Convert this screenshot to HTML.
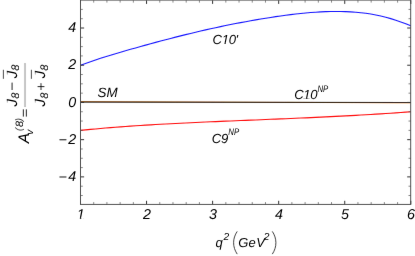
<!DOCTYPE html>
<html><head><meta charset="utf-8"><style>
html,body{margin:0;padding:0;background:#fff;}
svg{display:block}
text{text-rendering:geometricPrecision;font-family:"Liberation Sans",sans-serif;font-style:italic;fill:#000;}
</style></head><body>
<svg width="415" height="256" viewBox="0 0 415 256">
<defs><filter id="soft" x="0" y="0" width="415" height="256" filterUnits="userSpaceOnUse"><feConvolveMatrix order="3" kernelMatrix="0 0.04 0 0.04 0.84 0.04 0 0.04 0" edgeMode="duplicate" preserveAlpha="false"/></filter></defs>
<rect width="415" height="256" fill="#fff"/>
<g filter="url(#soft)">
<g fill="none">
<path d="M80.5,101.6L410.8,102.85" stroke="#d07a28" stroke-width="1.0"/>
<path d="M80.5,102.15Q240,102.65 410.8,102.5" stroke="#111" stroke-width="1.1" stroke-opacity="0.82"/>
<path d="M80.5,65.25 L85.5,63.41 L90.5,61.65 L95.5,59.96 L100.5,58.34 L105.5,56.76 L110.5,55.22 L115.5,53.71 L120.5,52.23 L125.5,50.78 L130.5,49.34 L135.6,47.92 L140.6,46.52 L145.6,45.13 L150.6,43.76 L155.6,42.40 L160.6,41.06 L165.6,39.74 L170.6,38.44 L175.6,37.15 L180.6,35.89 L185.6,34.65 L190.6,33.43 L195.6,32.23 L200.6,31.06 L205.6,29.91 L210.6,28.79 L215.6,27.69 L220.6,26.62 L225.6,25.58 L230.6,24.56 L235.6,23.57 L240.6,22.60 L245.7,21.67 L250.7,20.76 L255.7,19.88 L260.7,19.02 L265.7,18.20 L270.7,17.42 L275.7,16.66 L280.7,15.94 L285.7,15.27 L290.7,14.63 L295.7,14.03 L300.7,13.49 L305.7,12.99 L310.7,12.56 L315.7,12.19 L320.7,11.88 L325.7,11.65 L330.7,11.50 L335.7,11.43 L340.7,11.46 L345.7,11.60 L350.7,11.84 L355.8,12.20 L360.8,12.68 L365.8,13.30 L370.8,14.06 L375.8,14.96 L380.8,16.02 L385.8,17.24 L390.8,18.62 L395.8,20.18 L400.8,21.90 L405.8,23.79 L410.8,25.86" stroke="#1818ff" stroke-width="1.1"/>
<path d="M80.5,130.36 L85.5,129.86 L90.5,129.39 L95.5,128.93 L100.5,128.49 L105.5,128.06 L110.5,127.65 L115.5,127.25 L120.5,126.87 L125.5,126.51 L130.5,126.15 L135.6,125.81 L140.6,125.48 L145.6,125.16 L150.6,124.86 L155.6,124.56 L160.6,124.27 L165.6,123.99 L170.6,123.72 L175.6,123.46 L180.6,123.20 L185.6,122.96 L190.6,122.71 L195.6,122.48 L200.6,122.25 L205.6,122.02 L210.6,121.80 L215.6,121.59 L220.6,121.37 L225.6,121.16 L230.6,120.95 L235.6,120.75 L240.6,120.54 L245.7,120.34 L250.7,120.13 L255.7,119.93 L260.7,119.73 L265.7,119.53 L270.7,119.32 L275.7,119.12 L280.7,118.91 L285.7,118.70 L290.7,118.49 L295.7,118.27 L300.7,118.05 L305.7,117.83 L310.7,117.61 L315.7,117.38 L320.7,117.14 L325.7,116.90 L330.7,116.66 L335.7,116.41 L340.7,116.15 L345.7,115.89 L350.7,115.62 L355.8,115.34 L360.8,115.06 L365.8,114.77 L370.8,114.47 L375.8,114.16 L380.8,113.85 L385.8,113.53 L390.8,113.20 L395.8,112.86 L400.8,112.51 L405.8,112.15 L410.8,111.78" stroke="#ff1010" stroke-width="1.1"/>
<path d="M93.71,204.4v-2.3M93.71,0.3v2.3M106.92,204.4v-2.3M106.92,0.3v2.3M120.14,204.4v-2.3M120.14,0.3v2.3M133.35,204.4v-2.3M133.35,0.3v2.3M159.77,204.4v-2.3M159.77,0.3v2.3M172.98,204.4v-2.3M172.98,0.3v2.3M186.20,204.4v-2.3M186.20,0.3v2.3M199.41,204.4v-2.3M199.41,0.3v2.3M225.83,204.4v-2.3M225.83,0.3v2.3M239.04,204.4v-2.3M239.04,0.3v2.3M252.26,204.4v-2.3M252.26,0.3v2.3M265.47,204.4v-2.3M265.47,0.3v2.3M291.89,204.4v-2.3M291.89,0.3v2.3M305.10,204.4v-2.3M305.10,0.3v2.3M318.32,204.4v-2.3M318.32,0.3v2.3M331.53,204.4v-2.3M331.53,0.3v2.3M357.95,204.4v-2.3M357.95,0.3v2.3M371.16,204.4v-2.3M371.16,0.3v2.3M384.38,204.4v-2.3M384.38,0.3v2.3M397.59,204.4v-2.3M397.59,0.3v2.3M80.5,195.50h2.3M410.8,195.50h-2.3M80.5,186.19h2.3M410.8,186.19h-2.3M80.5,167.58h2.3M410.8,167.58h-2.3M80.5,158.28h2.3M410.8,158.28h-2.3M80.5,148.97h2.3M410.8,148.97h-2.3M80.5,130.37h2.3M410.8,130.37h-2.3M80.5,121.06h2.3M410.8,121.06h-2.3M80.5,111.75h2.3M410.8,111.75h-2.3M80.5,93.15h2.3M410.8,93.15h-2.3M80.5,83.84h2.3M410.8,83.84h-2.3M80.5,74.53h2.3M410.8,74.53h-2.3M80.5,55.93h2.3M410.8,55.93h-2.3M80.5,46.62h2.3M410.8,46.62h-2.3M80.5,37.32h2.3M410.8,37.32h-2.3M80.5,18.70h2.3M410.8,18.70h-2.3M80.5,9.40h2.3M410.8,9.40h-2.3" stroke="#555" stroke-width="0.7"/>
<path d="M80.50,204.4v-3.6M80.50,0.3v3.6M146.56,204.4v-3.6M146.56,0.3v3.6M212.62,204.4v-3.6M212.62,0.3v3.6M278.68,204.4v-3.6M278.68,0.3v3.6M344.74,204.4v-3.6M344.74,0.3v3.6M410.80,204.4v-3.6M410.80,0.3v3.6M80.5,176.89h3.6M410.8,176.89h-3.6M80.5,139.67h3.6M410.8,139.67h-3.6M80.5,102.45h3.6M410.8,102.45h-3.6M80.5,65.23h3.6M410.8,65.23h-3.6M80.5,28.01h3.6M410.8,28.01h-3.6" stroke="#333" stroke-width="1"/>
<rect x="80.5" y="0.1" width="330.2" height="204.3" stroke="#4a4a4a" stroke-width="0.95"/>
</g>
<g font-size="14.3"><text x="80.8" y="218.9" text-anchor="middle">1</text><text x="146.9" y="218.9" text-anchor="middle">2</text><text x="212.9" y="218.9" text-anchor="middle">3</text><text x="279.0" y="218.9" text-anchor="middle">4</text><text x="345.0" y="218.9" text-anchor="middle">5</text><text x="411.1" y="218.9" text-anchor="middle">6</text><text x="76.3" y="32.1" text-anchor="end">4</text><text x="76.3" y="69.3" text-anchor="end">2</text><text x="76.3" y="106.5" text-anchor="end">0</text><text x="76.3" y="143.8" text-anchor="end">2</text><path d="M59.5,139.77h6.9" stroke="#111" stroke-width="1" fill="none"/><text x="76.3" y="181.0" text-anchor="end">4</text><path d="M59.5,176.99h6.9" stroke="#111" stroke-width="1" fill="none"/></g>
<g font-size="12.8">
<text x="97.6" y="97.3" font-size="13.4">SM</text>
<text x="212.6" y="44" font-size="13.1" letter-spacing="-0.35">C10'</text>
<text x="294.2" y="99.2" font-size="13.1" letter-spacing="-0.35">C10</text><text x="317.4" y="92.4" font-size="9.6" textLength="10.8" lengthAdjust="spacingAndGlyphs">NP</text>
<text x="211.8" y="142.8" font-size="13.1" letter-spacing="-0.2">C9</text><text x="228.3" y="135.3" font-size="9.6" textLength="10.8" lengthAdjust="spacingAndGlyphs">NP</text>
</g>
<path d="M76.96,219.11H79.88V217.75H76.96ZM81.21,219.11H83.81V217.75H81.21ZM221.84,44.19H224.51V42.94H221.84ZM225.73,44.19H228.11V42.94H225.73ZM303.44,99.39H306.11V98.14H303.44ZM307.33,99.39H309.71V98.14H307.33Z" fill="#fff"/>
<g font-size="13">
<text x="215.6" y="247">q<tspan font-size="10.2" dy="-7.3" dx="0.6">2</tspan></text>
<text x="238.2" y="247" letter-spacing="0.3">GeV<tspan font-size="10.2" dy="-7.3" dx="-1.4">2</tspan></text>
<path d="M237.2,231.4C232.4,238.5 232.4,247 237.2,254.1" fill="none" stroke="#222" stroke-width="0.85"/>
<path d="M272.3,231.4C277.1,238.5 277.1,247 272.3,254.1" fill="none" stroke="#222" stroke-width="0.85"/>
</g>
<g transform="rotate(-90)">
<g font-size="15.2"><text x="-143.3" y="28.9">A</text></g>
<g font-size="10.2"><text x="-134.8" y="32.5">v</text></g>
<g font-size="10.8"><text x="-127.1" y="22.7">8</text></g>
<g font-size="9.6" fill="#333"><text x="-131.1" y="21.7" style="fill:#3a3a3a">(</text><text x="-121.3" y="21.7" style="fill:#3a3a3a">)</text></g>
<path d="M-116.6,23.35h7.3M-116.6,26.35h7.3" stroke="#111" stroke-width="0.9" fill="none"/>
<path d="M-106.8,25H-63.1" stroke="#606060" stroke-width="0.95" fill="none" stroke-dasharray="0.75 0.25"/>
<g font-size="14.8">
<text x="-106.6" y="16.6">J</text><text x="-78.3" y="16.6">J</text>
<text x="-106.6" y="44.6">J</text><text x="-78.3" y="44.6">J</text>
</g>
<path d="M-103.13,7.68L-100.70,7.68L-100.44,6.19L-103.13,6.19ZM-74.83,7.68L-72.40,7.68L-72.14,6.19L-74.83,6.19ZM-103.13,35.68L-100.70,35.68L-100.44,34.19L-103.13,34.19ZM-74.83,35.68L-72.40,35.68L-72.14,34.19L-74.83,34.19Z" fill="#fff"/>
<g font-size="11">
<text x="-98.8" y="19">8</text><text x="-70.7" y="19">8</text>
<text x="-98.8" y="47.5">8</text><text x="-70.7" y="47.5">8</text>
</g>
<path d="M-90,12.1h7.4M-90,41h6.8M-86.6,37.6v6.8" stroke="#111" stroke-width="0.9" fill="none"/>
<path d="M-78.8,3.4h9M-78.8,31.4h9" stroke="#222" stroke-width="0.8" fill="none"/>
</g>
</g>
</svg>
</body></html>
